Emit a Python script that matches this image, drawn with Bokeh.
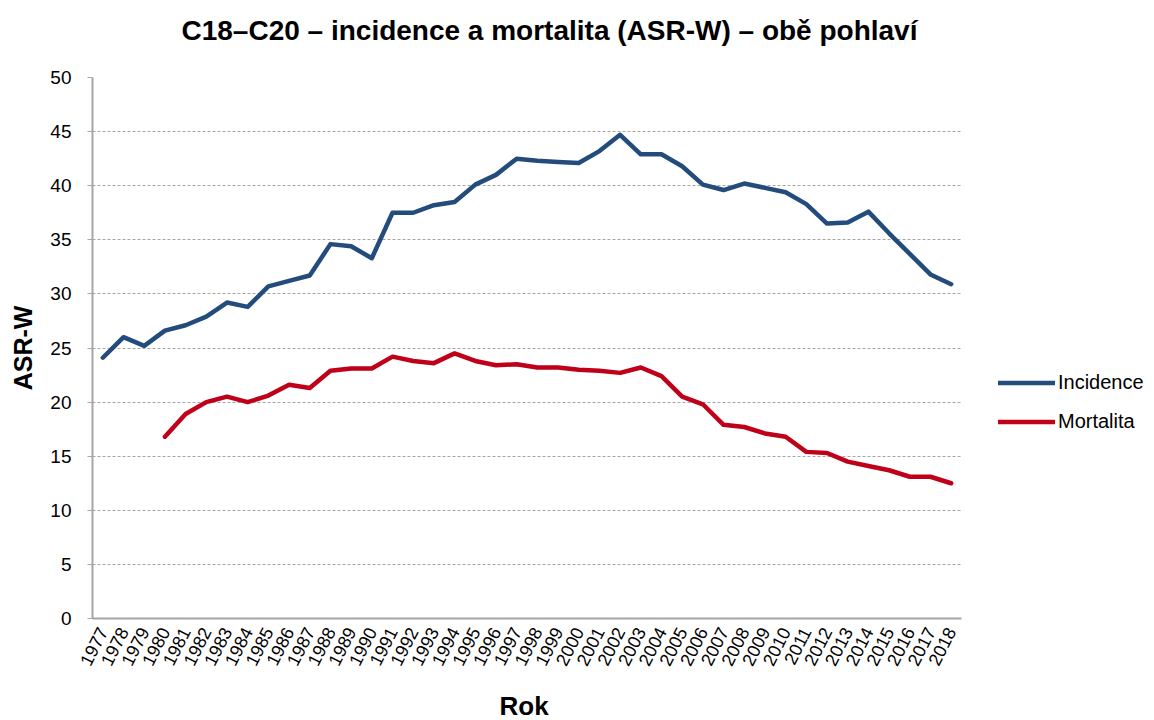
import math
import numpy as np
from bokeh.plotting import figure
from bokeh.models import (ColumnDataSource, Range1d, FixedTicker, Legend, LegendItem,
                          Title)
from bokeh.embed import file_html
from bokeh.resources import INLINE

# ---- data ----
years = list(range(1977, 2019))
incidence = [24.1, 26.0, 25.2, 26.6, 27.1, 27.9, 29.2, 28.8, 30.7, 31.2,
             31.7, 34.6, 34.4, 33.3, 37.5, 37.5, 38.2, 38.5, 40.1, 41.0,
             42.5, 42.3, 42.2, 42.1, 43.2, 44.7, 42.9, 42.9, 41.8, 40.1,
             39.6, 40.2, 39.8, 39.4, 38.3, 36.5, 36.6, 37.6, 35.6, 33.7,
             31.8, 30.9]
mortalita = [None, None, None, 16.8, 18.9, 20.0, 20.5, 20.0, 20.6, 21.6,
             21.3, 22.9, 23.1, 23.1, 24.2, 23.8, 23.6, 24.5, 23.8, 23.4,
             23.5, 23.2, 23.2, 23.0, 22.9, 22.7, 23.2, 22.4, 20.5, 19.8,
             17.9, 17.7, 17.1, 16.8, 15.4, 15.3, 14.5, 14.1, 13.7, 13.1,
             13.1, 12.5]
y_ticks = [0, 5, 10, 15, 20, 25, 30, 35, 40, 45, 50]
series_names = ["Incidence", "Mortalita"]
title_text = "C18\u2013C20 \u2013 incidence a mortalita (ASR-W) \u2013 ob\u011b pohlav\u00ed"
x_title = "Rok"
y_title = "ASR-W"

FONT = "Liberation Sans"
BLUE = "#234c7d"
RED = "#c00018"
GRAY = "#a6a6a6"

src = ColumnDataSource(dict(
    x=years,
    inc=incidence,
    mor=[np.nan if v is None else v for v in mortalita],
))

# ---- layout (pixels) ----
W, H = 1150, 720
FL, FT, FB = 92, 77, 618      # frame left / top / bottom on the canvas
PLOT_RIGHT = 961              # where the last category ends
x0, x1 = years[0] - 0.5, years[-1] + 0.5
ppx = (PLOT_RIGHT - FL) / (x1 - x0)
xr = Range1d(x0, x1 + (W - PLOT_RIGHT) / ppx)   # frame runs on to hold the legend

p = figure(width=W, height=H, output_backend="svg", toolbar_location=None,
           x_range=xr, y_range=Range1d(0, 50),
           min_border_left=FL, min_border_right=0,
           min_border_top=FT, min_border_bottom=H - FB)
p.outline_line_color = None
p.background_fill_color = "white"
p.border_fill_color = "white"

# chart title: spacer next to the plot, then the real title above it
p.add_layout(Title(text=" ", text_font_size="1px", standoff=29), "above")
p.add_layout(Title(text=title_text, align="left", offset=89, standoff=0,
                   text_font=FONT, text_font_style="bold", text_font_size="28px",
                   text_color="black"), "above")

# x axis
p.xaxis.bounds = (x0, x1)
p.xaxis.ticker = FixedTicker(ticks=years)
p.xaxis.major_label_orientation = math.radians(63)
p.xaxis.major_label_text_font = FONT
p.xaxis.major_label_text_font_size = "18px"
p.xaxis.major_label_text_color = "black"
p.xaxis.major_label_standoff = 10
p.xaxis.major_tick_out = 0
p.xaxis.major_tick_in = 0
p.xaxis.minor_tick_line_color = None
p.xaxis.axis_line_color = GRAY
p.xaxis.axis_line_width = 2
p.xaxis.axis_label = " "
p.xaxis.axis_label_text_font_size = "1px"
p.xaxis.axis_label_standoff = 11
# x axis title, centred under the plotted categories
p.add_layout(Title(text=x_title, align="left", offset=407, standoff=0,
                   text_font=FONT, text_font_style="bold", text_font_size="26px",
                   text_color="black"), "below")

# y axis
p.yaxis.bounds = (0, 50)
p.yaxis.ticker = FixedTicker(ticks=y_ticks)
p.yaxis.major_label_text_font = FONT
p.yaxis.major_label_text_font_size = "19px"
p.yaxis.major_label_text_color = "black"
p.yaxis.major_label_standoff = 16
p.yaxis.major_tick_out = 5
p.yaxis.major_tick_in = 0
p.yaxis.major_tick_line_color = GRAY
p.yaxis.major_tick_line_width = 1
p.yaxis.minor_tick_line_color = None
p.yaxis.axis_line_color = GRAY
p.yaxis.axis_line_width = 2
p.yaxis.axis_label = y_title
p.yaxis.axis_label_text_font = FONT
p.yaxis.axis_label_text_font_style = "bold"
p.yaxis.axis_label_text_font_size = "25px"
p.yaxis.axis_label_text_color = "black"
p.yaxis.axis_label_standoff = 10

p.xgrid.grid_line_color = None
p.ygrid.ticker = FixedTicker(ticks=y_ticks[1:])
p.ygrid.cross_bounds = (x0, x1)
p.ygrid.grid_line_color = GRAY
p.ygrid.grid_line_dash = "3 2"
p.ygrid.grid_line_width = 1

r_inc = p.line("x", "inc", source=src, line_color=BLUE, line_width=4.5,
               line_join="round", line_cap="round")
r_mor = p.line("x", "mor", source=src, line_color=RED, line_width=4.5,
               line_join="round", line_cap="round")

legend = Legend(items=[LegendItem(label=series_names[0], renderers=[r_inc]),
                       LegendItem(label=series_names[1], renderers=[r_mor])],
                location=(998 - FL, FB - 433), orientation="vertical",
                glyph_width=57, glyph_height=23, label_standoff=3, spacing=16,
                padding=0, margin=0, border_line_color=None,
                background_fill_alpha=0,
                label_text_font=FONT, label_text_font_size="20px",
                label_text_color="black", label_height=23)
p.add_layout(legend, "center")

open("out.html", "w").write(file_html(p, INLINE))
